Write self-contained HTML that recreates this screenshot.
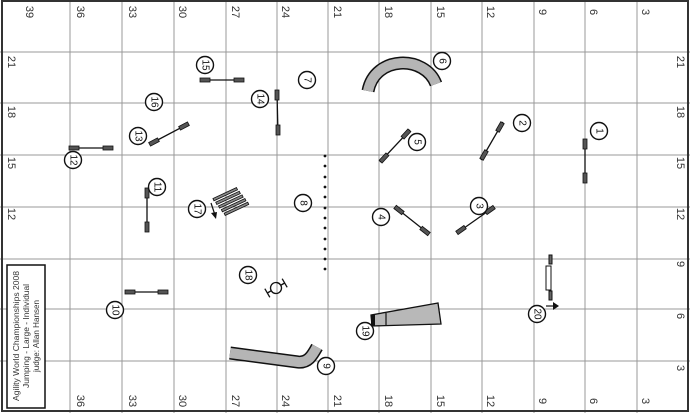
<!DOCTYPE html>
<html><head><style>
html,body{margin:0;padding:0;background:#fff;}
svg{display:block;font-family:"Liberation Sans",sans-serif;}
</style></head><body>
<svg width="690" height="413" viewBox="0 0 690 413" xmlns="http://www.w3.org/2000/svg">
<rect x="0" y="0" width="690" height="413" fill="#fff"/>
<g stroke="#999" stroke-width="1">
<line x1="70" y1="0" x2="70" y2="413"/><line x1="122" y1="0" x2="122" y2="413"/><line x1="174" y1="0" x2="174" y2="413"/>
<line x1="226" y1="0" x2="226" y2="413"/><line x1="277" y1="0" x2="277" y2="413"/><line x1="328" y1="0" x2="328" y2="413"/>
<line x1="379" y1="0" x2="379" y2="413"/><line x1="431" y1="0" x2="431" y2="413"/><line x1="482" y1="0" x2="482" y2="413"/>
<line x1="534" y1="0" x2="534" y2="413"/><line x1="585" y1="0" x2="585" y2="413"/><line x1="637" y1="0" x2="637" y2="413"/>
<line x1="0" y1="52" x2="690" y2="52"/><line x1="0" y1="103" x2="690" y2="103"/><line x1="0" y1="155" x2="690" y2="155"/>
<line x1="0" y1="207" x2="690" y2="207"/><line x1="0" y1="259" x2="690" y2="259"/><line x1="0" y1="309" x2="690" y2="309"/>
<line x1="0" y1="361" x2="690" y2="361"/>
</g>
<rect x="2" y="1" width="686" height="410" fill="none" stroke="#333" stroke-width="2"/>
<g font-size="11" fill="#333" text-anchor="middle" dominant-baseline="central">
<text transform="translate(29,12) rotate(90)">39</text><text transform="translate(80,12) rotate(90)">36</text>
<text transform="translate(132,12) rotate(90)">33</text><text transform="translate(182,12) rotate(90)">30</text>
<text transform="translate(235,12) rotate(90)">27</text><text transform="translate(285,12) rotate(90)">24</text>
<text transform="translate(337,12) rotate(90)">21</text><text transform="translate(388,12) rotate(90)">18</text>
<text transform="translate(440,12) rotate(90)">15</text><text transform="translate(490,12) rotate(90)">12</text>
<text transform="translate(542,12) rotate(90)">9</text><text transform="translate(593,12) rotate(90)">6</text>
<text transform="translate(645,12) rotate(90)">3</text>
<text transform="translate(80,401) rotate(90)">36</text>
<text transform="translate(132,401) rotate(90)">33</text><text transform="translate(182,401) rotate(90)">30</text>
<text transform="translate(235,401) rotate(90)">27</text><text transform="translate(285,401) rotate(90)">24</text>
<text transform="translate(337,401) rotate(90)">21</text><text transform="translate(388,401) rotate(90)">18</text>
<text transform="translate(440,401) rotate(90)">15</text><text transform="translate(490,401) rotate(90)">12</text>
<text transform="translate(542,401) rotate(90)">9</text><text transform="translate(593,401) rotate(90)">6</text>
<text transform="translate(645,401) rotate(90)">3</text>
<text transform="translate(11,62) rotate(90)">21</text><text transform="translate(11,112) rotate(90)">18</text>
<text transform="translate(11,163) rotate(90)">15</text><text transform="translate(11,214) rotate(90)">12</text>
<text transform="translate(680,62) rotate(90)">21</text><text transform="translate(680,112) rotate(90)">18</text>
<text transform="translate(680,163) rotate(90)">15</text><text transform="translate(680,214) rotate(90)">12</text>
<text transform="translate(680,264) rotate(90)">9</text><text transform="translate(680,316) rotate(90)">6</text>
<text transform="translate(680,368) rotate(90)">3</text>
</g>
<!-- legend -->
<rect x="7" y="265" width="38" height="143" fill="#fff" stroke="#111" stroke-width="1.5"/>
<g font-size="8.5" fill="#333" text-anchor="middle">
<text transform="translate(19,336) rotate(-90)" textLength="130" lengthAdjust="spacingAndGlyphs">Agility World Championships 2008</text>
<text transform="translate(29,336) rotate(-90)" textLength="104" lengthAdjust="spacingAndGlyphs">Jumping - Large - Individual</text>
<text transform="translate(39,336) rotate(-90)" textLength="72" lengthAdjust="spacingAndGlyphs">judge: Allan Hansen</text>
</g>
<!-- jumps -->
<g stroke="#111" stroke-width="1.3">
<line x1="585" y1="144" x2="585" y2="178"/>
<line x1="481" y1="160" x2="503" y2="122"/>
<line x1="457" y1="233" x2="494" y2="207"/>
<line x1="395" y1="207" x2="429" y2="234"/>
<line x1="380" y1="162" x2="410" y2="130"/>
<line x1="125" y1="292" x2="168" y2="292"/>
<line x1="147" y1="190" x2="147" y2="230"/>
<line x1="70" y1="148" x2="112" y2="148"/>
<line x1="150" y1="144" x2="188" y2="124"/>
<line x1="277" y1="92" x2="278" y2="134"/>
<line x1="201" y1="80" x2="243" y2="80"/>
</g>
<g fill="#555" stroke="#111" stroke-width="0.8">
<rect x="583" y="139" width="4" height="10"/><rect x="583" y="173" width="4" height="10"/>
<rect x="-2" y="-5" width="4" height="10" transform="translate(484,155) rotate(30)"/>
<rect x="-2" y="-5" width="4" height="10" transform="translate(500,127) rotate(30)"/>
<rect x="-5" y="-2" width="10" height="4" transform="translate(461,230) rotate(-35)"/>
<rect x="-5" y="-2" width="10" height="4" transform="translate(490,210) rotate(-35)"/>
<rect x="-5" y="-2" width="10" height="4" transform="translate(399,210) rotate(38)"/>
<rect x="-5" y="-2" width="10" height="4" transform="translate(425,231) rotate(38)"/>
<rect x="-5" y="-2" width="10" height="4" transform="translate(384,158) rotate(-47)"/>
<rect x="-5" y="-2" width="10" height="4" transform="translate(406,134) rotate(-47)"/>
<rect x="125" y="290" width="10" height="4"/><rect x="158" y="290" width="10" height="4"/>
<rect x="145" y="188" width="4" height="10"/><rect x="145" y="222" width="4" height="10"/>
<rect x="69" y="146" width="10" height="4"/><rect x="103" y="146" width="10" height="4"/>
<rect x="-5" y="-2" width="10" height="4" transform="translate(154,142) rotate(-28)"/>
<rect x="-5" y="-2" width="10" height="4" transform="translate(184,126) rotate(-28)"/>
<rect x="275" y="90" width="4" height="10"/><rect x="276" y="125" width="4" height="10"/>
<rect x="200" y="78" width="10" height="4"/><rect x="234" y="78" width="10" height="4"/>
</g>
<!-- tunnel 6 -->
<path d="M368,91 C375,55 425,55 436,84" fill="none" stroke="#111" stroke-width="13" stroke-linecap="butt"/>
<path d="M368,91 C375,55 425,55 436,84" fill="none" stroke="#b5b5b5" stroke-width="10"/>
<!-- tunnel 9 -->
<path d="M230,353 L298,362 C308,363 312,356 317,347" fill="none" stroke="#111" stroke-width="13"/>
<path d="M230,353 L298,362 C308,363 312,356 317,347" fill="none" stroke="#b5b5b5" stroke-width="10"/>
<!-- chute 19 -->
<polygon points="371,315 438,303 441,324 372,326" fill="#b8b8b8" stroke="#111" stroke-width="1.3"/>
<rect x="371" y="315" width="4" height="11" fill="#111"/>
<line x1="386" y1="313" x2="386" y2="325" stroke="#111" stroke-width="1.2"/>
<!-- wall 20 -->
<g fill="#fff" stroke="#111" stroke-width="1">
<rect x="549" y="255" width="3" height="9" fill="#666"/>
<rect x="546" y="266" width="5" height="24"/>
<rect x="549" y="291" width="3" height="9" fill="#666"/>
</g>
<line x1="546" y1="306" x2="554" y2="306" stroke="#111" stroke-width="1.2"/>
<polygon points="553,302 559,306 553,310" fill="#111"/>
<!-- weave -->
<g fill="#111">
<circle cx="325" cy="156" r="1.4"/><circle cx="325" cy="166" r="1.4"/><circle cx="325" cy="177" r="1.4"/>
<circle cx="325" cy="187" r="1.4"/><circle cx="325" cy="197" r="1.4"/><circle cx="325" cy="208" r="1.4"/>
<circle cx="325" cy="218" r="1.4"/><circle cx="325" cy="228" r="1.4"/><circle cx="325" cy="239" r="1.4"/>
<circle cx="325" cy="249" r="1.4"/><circle cx="325" cy="259" r="1.4"/><circle cx="325" cy="269" r="1.4"/>
</g>
<!-- long jump 17 -->
<g transform="translate(212,199) rotate(-25)" stroke="#111" stroke-width="0.8" fill="#888">
<rect x="1" y="0" width="26" height="2.5"/><rect x="2" y="4.5" width="26" height="2.5"/>
<rect x="3" y="9" width="26" height="2.5"/><rect x="4" y="13.5" width="26" height="2.5"/>
<rect x="5" y="18" width="26" height="2.5"/>
</g>
<line x1="211" y1="203" x2="215" y2="215" stroke="#111" stroke-width="1.2"/>
<polygon points="211,213 217,212 216,219" fill="#111"/>
<!-- tire 18 -->
<g transform="translate(276,288) rotate(-30)" stroke="#111" stroke-width="1.3" fill="none">
<circle cx="0" cy="0" r="5.5"/>
<line x1="-6" y1="0" x2="-10" y2="0"/><line x1="6" y1="0" x2="10" y2="0"/>
<line x1="-10" y1="-5" x2="-10" y2="5"/><line x1="10" y1="-5" x2="10" y2="5"/>
</g>
<!-- numbers -->
<g fill="#fff" stroke="#111" stroke-width="1.4">
<circle cx="599" cy="131" r="8.5"/><circle cx="522" cy="123" r="8.5"/><circle cx="479" cy="206" r="8.5"/>
<circle cx="381" cy="217" r="8.5"/><circle cx="417" cy="142" r="8.5"/><circle cx="442" cy="61" r="8.5"/>
<circle cx="307" cy="80" r="8.5"/><circle cx="303" cy="203" r="8.5"/><circle cx="326" cy="366" r="8.5"/>
<circle cx="115" cy="310" r="8.5"/><circle cx="157" cy="187" r="8.5"/><circle cx="73" cy="160" r="8.5"/>
<circle cx="138" cy="136" r="8.5"/><circle cx="260" cy="99" r="8.5"/><circle cx="205" cy="65" r="8.5"/>
<circle cx="154" cy="102" r="8.5"/><circle cx="197" cy="209" r="8.5"/><circle cx="248" cy="275" r="8.5"/>
<circle cx="365" cy="331" r="8.5"/><circle cx="537" cy="314" r="8.5"/>
</g>
<g font-size="10" fill="#111" text-anchor="middle" dominant-baseline="central">
<text transform="translate(599,131) rotate(90)">1</text><text transform="translate(522,123) rotate(90)">2</text>
<text transform="translate(479,206) rotate(90)">3</text><text transform="translate(381,217) rotate(90)">4</text>
<text transform="translate(417,142) rotate(90)">5</text><text transform="translate(442,61) rotate(90)">6</text>
<text transform="translate(307,80) rotate(90)">7</text><text transform="translate(303,203) rotate(90)">8</text>
<text transform="translate(326,366) rotate(90)">9</text><text transform="translate(115,310) rotate(90)">10</text>
<text transform="translate(157,187) rotate(90)">11</text><text transform="translate(73,160) rotate(90)">12</text>
<text transform="translate(138,136) rotate(90)">13</text><text transform="translate(260,99) rotate(90)">14</text>
<text transform="translate(205,65) rotate(90)">15</text><text transform="translate(154,102) rotate(90)">16</text>
<text transform="translate(197,209) rotate(90)">17</text><text transform="translate(248,275) rotate(90)">18</text>
<text transform="translate(365,331) rotate(90)">19</text><text transform="translate(537,314) rotate(90)">20</text>
</g>
</svg>
</body></html>
